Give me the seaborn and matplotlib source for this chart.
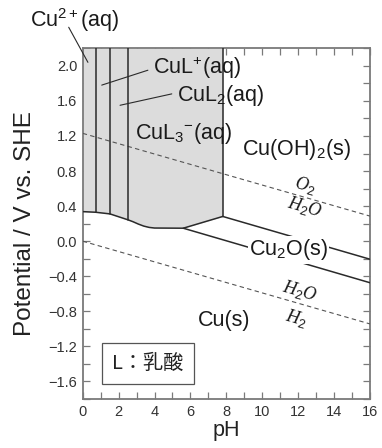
import numpy as np
import pandas as pd
import matplotlib
matplotlib.use("Agg")
import matplotlib.pyplot as plt
import seaborn as sns

# Axis extents
PH_MIN, PH_MAX = 0, 16
E_MIN, E_MAX = -1.8, 2.2

# Lower boundary of the aqueous copper (lactate complex) field
aq_lower_ph = [0.0, 0.72, 1.52, 2.53, 2.8, 3.1, 3.4, 3.7, 4.0, 5.6, 7.8]
aq_lower_e = [0.337, 0.330, 0.311, 0.243, 0.222, 0.195, 0.172, 0.157, 0.150, 0.148, 0.282]

# Vertical boundaries Cu2+/CuL+, CuL+/CuL2, CuL2/CuL3-
complex_ph = [0.72, 1.52, 2.53]
complex_e_low = [0.330, 0.311, 0.243]
# CuL3-/Cu(OH)2 boundary
hydroxide_ph = 7.8
hydroxide_e_low = 0.282

# Cu2O/Cu boundary
cu2o_cu_ph = [5.6, 16.0]
cu2o_cu_e = [0.148, -0.474]
# Cu(OH)2/Cu2O boundary
cuoh_cu2o_ph = [7.8, 16.0]
cuoh_cu2o_e = [0.282, -0.206]

# Water stability lines
water_ph = [0.0, 16.0]
o2_e = [1.23, 0.286]
h2_e = [0.0, -0.944]

# Tick values
x_major = [0, 2, 4, 6, 8, 10, 12, 14, 16]
y_major = [-1.6, -1.2, -0.8, -0.4, 0.0, 0.4, 0.8, 1.2, 1.6, 2.0]

sns.set_style("ticks")
plt.rcParams["font.family"] = ["Liberation Sans", "DejaVu Sans"]
plt.rcParams["mathtext.fontset"] = "custom"
plt.rcParams["mathtext.rm"] = "Liberation Sans"
plt.rcParams["mathtext.it"] = "Liberation Sans:italic"

fig = plt.figure(figsize=(3.82, 4.48), dpi=100)
ax = fig.add_axes([0.2165, 0.1094, 0.9686 - 0.2165, 0.8922 - 0.1094])

line_col = "#2a2a2a"
spine_col = "#7a7a7a"

# Aqueous region shading
ax.fill_between(aq_lower_ph, aq_lower_e, E_MAX, color="#dcdcdc", lw=0, zorder=1)

# Water lines
for e_vals in (o2_e, h2_e):
    df = pd.DataFrame({"pH": water_ph, "E": e_vals})
    sns.lineplot(data=df, x="pH", y="E", ax=ax, color="#555555", lw=0.8,
                 linestyle=(0, (4, 3)), estimator=None, sort=False, zorder=3)

# Solid boundaries
segments = [
    (aq_lower_ph, aq_lower_e),
    (cu2o_cu_ph, cu2o_cu_e),
    (cuoh_cu2o_ph, cuoh_cu2o_e),
    ([hydroxide_ph, hydroxide_ph], [hydroxide_e_low, E_MAX]),
]
for p, e in zip(complex_ph, complex_e_low):
    segments.append(([p, p], [e, E_MAX]))
for xs, ys in segments:
    df = pd.DataFrame({"pH": xs, "E": ys})
    sns.lineplot(data=df, x="pH", y="E", ax=ax, color=line_col, lw=1.1,
                 estimator=None, sort=False, zorder=4)

ax.set_xlim(PH_MIN, PH_MAX)
ax.set_ylim(E_MIN, E_MAX)
ax.set_xticks(x_major)
ax.set_xticks(np.arange(0, 17, 1), minor=True)
ax.set_yticks(y_major)
ax.set_yticks(np.round(np.arange(-1.8, 2.21, 0.2), 1), minor=True)
ax.set_yticklabels([f"{v:.1f}".replace("-", "\u2212") for v in y_major])
ax.tick_params(which="both", direction="in", length=5, width=0.9, color=spine_col,
               top=True, right=True, labelsize=10.5, labelcolor="#333333", pad=4)
for s in ax.spines.values():
    s.set_color(spine_col)
    s.set_linewidth(1.3)

ax.set_xlabel("pH", fontsize=15.5, color="#222222", labelpad=1)
ax.set_ylabel("Potential / V vs. SHE", fontsize=17.5, color="#222222", labelpad=9)

lab = dict(fontsize=15.5, color="#1a1a1a", ha="center", va="center", zorder=6)
ax.text(-0.43, 2.52, "Cu$^{2+}$(aq)", clip_on=False, **lab)
ax.plot([-0.78, 0.29], [2.44, 2.04], color=line_col, lw=0.8, clip_on=False, zorder=6)
ax.text(6.35, 1.975, "CuL$^{+}$(aq)", **lab)
ax.plot([1.06, 3.63], [1.78, 1.95], color=line_col, lw=0.8, zorder=6)
ax.text(7.69, 1.667, "CuL$_2$(aq)", **lab)
ax.plot([2.08, 4.96], [1.55, 1.68], color=line_col, lw=0.8, zorder=6)
ax.text(5.63, 1.233, "CuL$_3$$^{\u2212}$(aq)", **lab)
ax.text(11.9, 1.04, "Cu(OH)$_2$(s)", **lab)
ax.text(11.46, -0.10, "Cu$_2$O(s)",
        bbox=dict(boxstyle="square,pad=0.05", fc="white", ec="none"), **lab)
ax.text(7.9, -0.90, "Cu(s)", **lab)

ser = dict(fontsize=13, family=["Liberation Serif"], style="italic", color="#1a1a1a",
           ha="center", va="center", rotation=-16, zorder=6)
ax.text(12.37, 0.64, "O$_2$", **ser)
ax.text(12.37, 0.39, "H$_2$O", **ser)
ax.text(12.07, -0.575, "H$_2$O", **ser)
ax.text(11.9, -0.875, "H$_2$", **ser)

ax.text(3.63, -1.40, "L：乳酸", fontsize=14.5, family=["Noto Sans CJK JP", "DejaVu Sans"],
        color="#222222", ha="center", va="center", zorder=6,
        bbox=dict(boxstyle="square,pad=0.5", fc="white", ec="#555555", lw=0.9))

fig.savefig("out.png", dpi=100)
